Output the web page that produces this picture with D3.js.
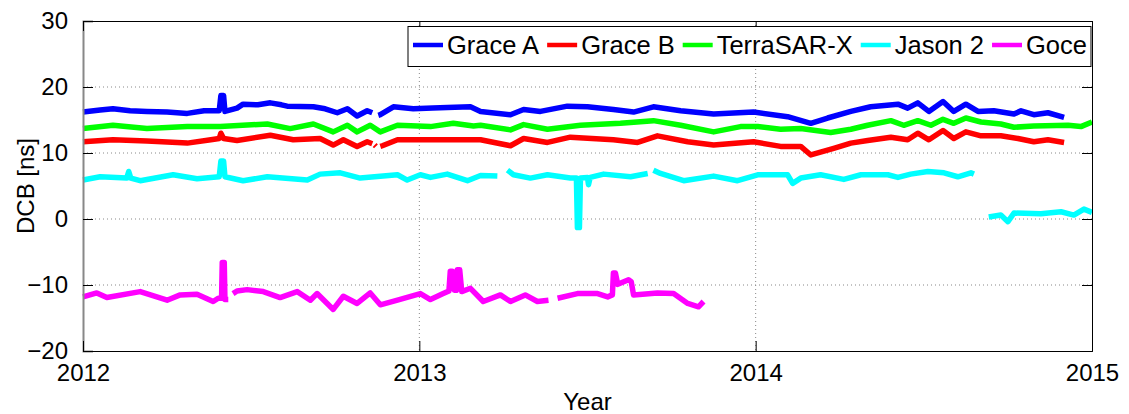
<!DOCTYPE html>
<html>
<head>
<meta charset="utf-8">
<script src="https://cdn.jsdelivr.net/npm/d3@7"></script>
<style>
  body { margin: 0; background: #fff; }
  svg text { font-family: "Liberation Sans", Arial, sans-serif; fill: #000; }
</style>
</head>
<body>
<div id="main"></div>
<script>
// series: [decimal year, DCB ns]; null value = gap in the data
const graceA = [[2012.000,16.2],[2012.051,16.5],[2012.089,16.7],[2012.140,16.4],[2012.190,16.3],[2012.250,16.2],[2012.310,16.0],[2012.360,16.4],[2012.405,16.4],[2012.410,18.7],[2012.418,18.7],[2012.422,16.3],[2012.458,16.8],[2012.476,17.4],[2012.520,17.3],[2012.557,17.6],[2012.590,17.3],[2012.607,17.1],[2012.685,17.0],[2012.720,16.7],[2012.756,16.1],[2012.786,16.7],[2012.815,15.6],[2012.845,16.4],[2012.860,16.1],[2012.868,null],[2012.878,15.7],[2012.884,15.8],[2012.923,17.0],[2012.982,16.7],[2013.040,16.8],[2013.083,16.9],[2013.152,17.0],[2013.182,16.3],[2013.271,15.8],[2013.310,16.6],[2013.360,16.3],[2013.440,17.1],[2013.500,17.0],[2013.577,16.6],[2013.637,16.2],[2013.696,17.0],[2013.777,16.4],[2013.875,15.9],[2013.994,16.2],[2014.095,15.5],[2014.164,14.5],[2014.214,15.3],[2014.283,16.3],[2014.342,17.0],[2014.423,17.4],[2014.452,16.8],[2014.482,17.6],[2014.515,16.3],[2014.557,17.8],[2014.589,16.3],[2014.625,17.4],[2014.661,16.3],[2014.708,16.4],[2014.768,15.9],[2014.789,16.4],[2014.827,15.8],[2014.869,16.1],[2014.917,15.4]];

const graceB = [[2012.000,11.7],[2012.089,12.0],[2012.190,11.8],[2012.310,11.5],[2012.380,12.0],[2012.405,12.2],[2012.410,13.0],[2012.418,12.2],[2012.458,11.9],[2012.557,12.7],[2012.625,12.0],[2012.705,12.2],[2012.744,11.2],[2012.774,12.0],[2012.815,11.0],[2012.845,11.7],[2012.860,11.4],[2012.864,null],[2012.867,11.2],[2012.871,11.0],[2012.876,null],[2012.884,11.0],[2012.890,11.1],[2012.935,12.0],[2013.033,12.0],[2013.182,12.0],[2013.271,11.1],[2013.310,12.2],[2013.381,11.6],[2013.449,12.4],[2013.577,12.0],[2013.649,11.6],[2013.708,12.6],[2013.798,11.7],[2013.875,11.2],[2013.994,11.7],[2014.074,11.0],[2014.134,11.0],[2014.164,9.7],[2014.232,10.7],[2014.283,11.5],[2014.333,11.9],[2014.402,12.4],[2014.452,12.0],[2014.482,13.0],[2014.515,12.0],[2014.557,13.4],[2014.589,12.2],[2014.625,13.2],[2014.670,12.6],[2014.729,12.6],[2014.780,12.2],[2014.827,11.7],[2014.869,12.0],[2014.917,11.6]];

const terraSAR = [[2012.000,13.7],[2012.089,14.2],[2012.190,13.7],[2012.310,14.0],[2012.408,14.0],[2012.548,14.4],[2012.616,13.7],[2012.685,14.4],[2012.744,13.2],[2012.786,14.2],[2012.815,13.2],[2012.854,14.2],[2012.884,13.2],[2012.935,14.2],[2013.033,14.0],[2013.101,14.5],[2013.161,14.1],[2013.182,14.2],[2013.271,13.5],[2013.310,14.3],[2013.381,13.6],[2013.479,14.2],[2013.598,14.5],[2013.696,14.9],[2013.777,14.2],[2013.875,13.2],[2013.955,14.0],[2014.006,14.0],[2014.074,13.6],[2014.134,13.7],[2014.223,13.1],[2014.283,13.6],[2014.333,14.2],[2014.402,14.9],[2014.440,14.2],[2014.482,14.9],[2014.521,14.2],[2014.557,15.1],[2014.589,14.5],[2014.625,15.3],[2014.670,14.7],[2014.729,14.4],[2014.768,13.9],[2014.827,14.1],[2014.929,14.2],[2014.967,14.0],[2015.000,14.7]];

const jason2 = [[2012.000,5.9],[2012.051,6.4],[2012.130,6.2],[2012.136,7.2],[2012.142,6.2],[2012.170,5.8],[2012.268,6.7],[2012.339,6.1],[2012.405,6.4],[2012.410,8.8],[2012.418,8.8],[2012.422,6.4],[2012.476,5.8],[2012.548,6.4],[2012.667,5.9],[2012.705,6.8],[2012.765,7.0],[2012.824,6.2],[2012.935,6.7],[2012.964,5.9],[2013.003,6.7],[2013.033,6.3],[2013.083,6.8],[2013.143,5.8],[2013.182,6.6],[2013.232,6.5],[2013.245,null],[2013.262,7.4],[2013.280,6.7],[2013.330,6.2],[2013.381,6.7],[2013.449,6.2],[2013.467,6.2],[2013.470,-1.3],[2013.476,-1.3],[2013.479,6.2],[2013.500,6.3],[2013.503,5.2],[2013.508,6.3],[2013.548,6.8],[2013.628,6.4],[2013.679,6.9],[2013.688,null],[2013.696,7.4],[2013.717,6.9],[2013.786,5.8],[2013.875,6.5],[2013.946,5.8],[2014.006,6.7],[2014.095,6.7],[2014.110,5.4],[2014.134,6.2],[2014.193,6.7],[2014.262,6.0],[2014.313,6.7],[2014.393,6.7],[2014.423,6.3],[2014.461,6.8],[2014.512,7.2],[2014.560,7.0],[2014.601,6.4],[2014.640,7.0],[2014.649,6.8],[2014.670,null],[2014.693,0.3],[2014.729,0.6],[2014.750,-0.4],[2014.768,0.9],[2014.848,0.8],[2014.908,1.1],[2014.946,0.6],[2014.976,1.5],[2015.000,1.0]];

const goce = [[2012.000,-11.8],[2012.041,-11.2],[2012.071,-11.9],[2012.170,-11.0],[2012.250,-12.3],[2012.289,-11.5],[2012.339,-11.4],[2012.387,-12.5],[2012.402,-12.0],[2012.412,-12.0],[2012.414,-6.6],[2012.420,-6.6],[2012.422,-12.2],[2012.432,-12.2],[2012.440,null],[2012.446,-11.3],[2012.458,-10.9],[2012.488,-10.7],[2012.536,-11.0],[2012.586,-11.9],[2012.637,-11.0],[2012.676,-12.3],[2012.696,-11.3],[2012.744,-13.7],[2012.774,-11.7],[2012.815,-12.8],[2012.854,-11.2],[2012.884,-13.0],[2012.935,-12.3],[2013.003,-11.3],[2013.033,-12.2],[2013.071,-11.3],[2013.088,-10.9],[2013.092,-7.9],[2013.098,-7.9],[2013.104,-10.8],[2013.110,-10.8],[2013.113,-7.7],[2013.120,-7.7],[2013.126,-11.0],[2013.152,-10.5],[2013.190,-12.5],[2013.241,-11.5],[2013.271,-12.5],[2013.315,-11.5],[2013.351,-12.5],[2013.384,-12.3],[2013.398,null],[2013.411,-12.0],[2013.470,-11.3],[2013.530,-11.3],[2013.560,-11.8],[2013.574,-11.5],[2013.577,-8.2],[2013.583,-8.2],[2013.590,-9.9],[2013.622,-9.2],[2013.630,-9.5],[2013.637,-11.5],[2013.708,-11.2],[2013.756,-11.3],[2013.798,-12.8],[2013.830,-13.3],[2013.845,-12.5]];

const seriesNames = ["Grace A", "Grace B", "TerraSAR-X", "Jason 2", "Goce"];
const seriesColors = ["#0000ff", "#ff0000", "#00ff00", "#00ffff", "#ff00ff"];
const allSeries = [graceA, graceB, terraSAR, jason2, goce];

const yearTicks = [2012, 2013, 2014, 2015];
const dcbTicks = [-20, -10, 0, 10, 20, 30];

const margin = { top: 21, right: 37, bottom: 63, left: 83 };
const W = 1129, H = 414;
const width = W - margin.left - margin.right;
const height = H - margin.top - margin.bottom;

const svg = d3.select("#main").append("svg")
  .attr("width", W).attr("height", H);

const g = svg.append("g")
  .attr("transform", `translate(${margin.left}, ${margin.top})`);

const x = d3.scaleLinear().domain([2012, 2015]).range([0, width]);
const y = d3.scaleLinear().domain([-20, 30]).range([height, 0]);

// dotted grid
g.append("g").selectAll("line").data(dcbTicks.slice(1, -1)).enter().append("line")
  .attr("x1", 0).attr("x2", width)
  .attr("y1", d => y(d)).attr("y2", d => y(d))
  .attr("stroke", "#888").attr("stroke-width", 1).attr("stroke-dasharray", "1,3");
g.append("g").selectAll("line").data(yearTicks.slice(1, -1)).enter().append("line")
  .attr("y1", 0).attr("y2", height)
  .attr("x1", d => x(d)).attr("x2", d => x(d))
  .attr("stroke", "#888").attr("stroke-width", 1).attr("stroke-dasharray", "1,3");

// data
const line = d3.line()
  .defined(d => d[1] !== null)
  .x(d => x(d[0]))
  .y(d => y(d[1]));

g.append("g").selectAll("path").data(allSeries).enter().append("path")
  .attr("d", line)
  .attr("fill", "none")
  .attr("stroke", (d, i) => seriesColors[i])
  .attr("stroke-width", 5.5)
  .attr("stroke-linejoin", "round");

// axes (ticks inward, box all round)
const tickLen = 10;
const axL = g.append("g").call(d3.axisLeft(y).tickValues(dcbTicks).tickSize(-tickLen).tickPadding(tickLen + 5));
const axR = g.append("g").attr("transform", `translate(${width},0)`)
  .call(d3.axisRight(y).tickValues(dcbTicks).tickSize(-tickLen).tickFormat(""));
const axB = g.append("g").attr("transform", `translate(0,${height})`)
  .call(d3.axisBottom(x).tickValues(yearTicks).tickSize(-tickLen).tickPadding(13).tickFormat(d3.format("d")));
const axT = g.append("g")
  .call(d3.axisTop(x).tickValues(yearTicks).tickSize(-tickLen).tickFormat(""));

[axL, axR, axB, axT].forEach(a => {
  a.select(".domain").attr("stroke", "#000").attr("stroke-width", 1);
  a.selectAll(".tick line").attr("stroke", "#000");
  a.selectAll("text").attr("font-size", 24).attr("font-family", "Liberation Sans, Arial, sans-serif").attr("fill", "#000");
});
axL.select(".domain").attr("stroke", "#888").attr("stroke-width", 2);

// axis titles
svg.append("text")
  .attr("x", margin.left + width / 2).attr("y", 410)
  .attr("text-anchor", "middle").attr("font-size", 24)
  .text("Year");
svg.append("text")
  .attr("transform", `translate(34, ${margin.top + height / 2}) rotate(-90)`)
  .attr("text-anchor", "middle").attr("font-size", 24)
  .text("DCB [ns]");

// legend
const legend = svg.append("g").attr("id", "legend");
const legBox = legend.append("rect")
  .attr("fill", "#fff").attr("stroke", "#000").attr("stroke-width", 1);
let lx = 413;
const ly = 45;
seriesNames.forEach((name, i) => {
  legend.append("line")
    .attr("x1", lx).attr("x2", lx + 30).attr("y1", ly).attr("y2", ly)
    .attr("stroke", seriesColors[i]).attr("stroke-width", 4.5);
  const t = legend.append("text")
    .attr("x", lx + 34).attr("y", ly + 9)
    .attr("font-size", 25.5).text(name);
  lx += 34 + t.node().getComputedTextLength() + 8;
});
legBox.attr("x", 408).attr("y", 26.5).attr("width", lx - 408 - 4).attr("height", 40);
</script>
</body>
</html>
